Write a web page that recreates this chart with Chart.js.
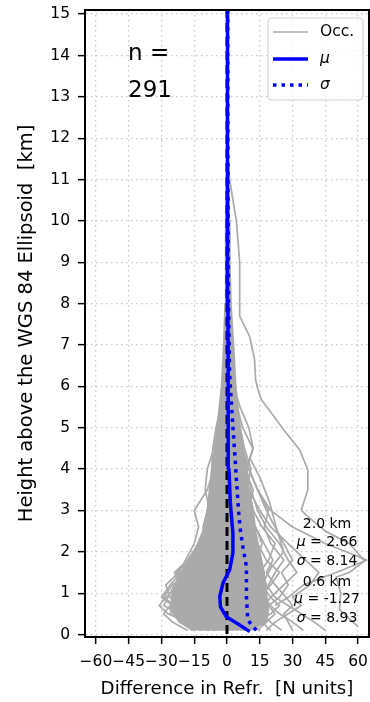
<!DOCTYPE html>
<html>
<head>
<meta charset="utf-8">
<title>Refractivity difference profiles</title>
<script src="https://cdn.jsdelivr.net/npm/chart.js@4.4.1/dist/chart.umd.min.js"></script>
<style>
  html, body { margin: 0; padding: 0; background: #fff; }
  #graphique { display: block; }
</style>
</head>
<body>
<canvas id="graphique" width="370" height="702"></canvas>
<script>
// axes
const xTicks = [-60, -45, -30, -15, 0, 15, 30, 45, 60]
const yTicks = [0, 1, 2, 3, 4, 5, 6, 7, 8, 9, 10, 11, 12, 13, 14, 15]

// dense core of the occultation profiles (left edge going up, right edge going down)
const coreHeights = [0.1, 0.3, 0.6, 1.0, 1.5, 2.0, 2.5, 3.0, 3.5, 4.0, 4.5, 5.0, 5.5, 6.0, 7.0, 8.0, 9.0, 10, 11, 12, 15]
const coreLeft = [-16, -21, -26, -25, -21, -15, -11, -9, -8, -7, -5.5, -4.5, -3.5, -2.5, -1.5, -0.9, -0.7, -0.5, -0.3, -0.2, 0]
const coreRight = [10, 18, 19, 18, 17, 15, 13, 12, 10, 9, 7.5, 6, 5, 4, 3, 1.8, 1.3, 1.0, 0.7, 0.4, 0.2]

// individual occultation profiles
const occHeights = [0.1, 0.3, 0.5, 0.7, 0.9, 1.2, 1.5, 1.8, 2.2, 2.6, 3.0, 3.5, 4.0, 4.5, 5.0, 5.5, 6.0, 7.0]
const occProfiles = [
  [-8, -18, -27, -31, -28, -22, -17, -12, -8, -5, -3, -2, -1.5, -1, -0.8, -0.5, -0.3, 0],
  [-5, -14, -22, -29, -27, -24, -20, -14, -10, -7, -5, -3, -2, -1.5, -1, -0.6, -0.3, 0],
  [null, -10, -20, -25, -30, -26, -21, -17, -12, -8, -5, -3.5, -2.5, -2, -1.2, -0.8, -0.4, 0.1],
  [-12, -20, -26, -24, -25, -22, -24, -18, -13, -9, -6, -4, -3, -2, -1.5, -1, -0.5, 0],
  [-3, -9, -16, -22, -26, -28, -22, -19, -15, -13, -15, -9, -6, -4, -3, -2, -1, -0.3],
  [-6, -12, -18, -24, -29, -25, -18, -14, -11, -10, -8, -10, -9, -6, -4, -2.5, -1.5, -0.5],
  [-10, -16, -20, -23, -21, -19, -16, -12, -9, -6, -4, -5, -7, -6.5, -5, -3, -2, -0.5],
  [-2, -6, -12, -18, -22, -20, -23, -17, -11, -7, -4, -3, -2, -1, -1, -0.5, -0.2, 0],
  [-15, -22, -24, -20, -16, -14, -12, -10, -7, -5, -3, -2, -1.5, -1, -0.5, -0.3, 0, 0],
  [-4, -8, -14, -16, -18, -16, -14, -13, -10, -8, -6, -4, -3, -2, -2, -1, -0.5, 0],
  [-18, -25, -29, -26, -22, -18, -15, -12, -9, -7, -5, -4, -3, -2, -1.5, -1, -0.5, 0],
  [2, -4, -10, -12, -9, -6, -4, -2, 0, 1, 2, 1, 1, 0.5, 0.5, 0.3, 0.2, 0],
  [5, 0, -5, -8, -6, -3, 0, 2, 3, 3, 2, 2, 1.5, 1, 1, 0.5, 0.3, 0.1],
  [8, 4, -2, -5, -3, 0, 3, 5, 4, 3, 2, 1.5, 1, 1, 0.5, 0.5, 0.2, 0],
  [-1, -5, -8, -10, -13, -9, -7, -5, -3, -2, -1, 0, 0, 0, 0, 0, 0, 0],
  [10, 6, 3, 0, 2, 5, 6, 8, 6, 4, 3, 2, 2, 1, 1, 0.5, 0.5, 0.2],
  [3, 2, 1, -2, -4, -2, 1, 3, 5, 6, 5, 3, 2, 1.5, 1, 0.5, 0.3, 0],
  [15, 12, 10, 8, 11, 14, 12, 10, 8, 7, 6, 5, 3, 2, 1.5, 1, 0.5, 0.2],
  [20, 16, 14, 17, 20, 16, 13, 15, 12, 9, 7, 5, 4, 3, 2, 1.5, 1, 0.3],
  [12, 10, 14, 18, 15, 20, 24, 18, 14, 12, 9, 7, 5, 3.5, 2.5, 2, 1.5, 0.5],
  [25, 20, 16, 12, 10, 12, 15, 19, 22, 16, 12, 10, 8, 5, 3, 2, 1, 0.5],
  [35, 30, 24, 20, 17, 15, 13, 11, 9, 8, 6, 4, 3, 2, 1.5, 1, 0.5, 0.2],
  [45, 40, 34, 28, 22, 18, 16, 14, 12, 10, 8, 6, 4, 3, 2, 1.5, 1, 0.3],
  [30, 28, 26, 30, 27, 22, 18, 21, 17, 13, 10, 8, 6, 4, 3, 2, 1, 0.3],
  [8, 14, 20, 24, 20, 26, 32, 28, 24, 18, 14, 11, 9, 12, 10, 6, 3, 1],
  [10, 12, 9, 13, 16, 19, 22, 26, 20, 17, 19, 14, 10, 7, 5, 3, 2, 0.5],
  [null, null, null, 22, 28, 35, 50, 64, 45, 30, 20, 14, 10, 7, 5, 3, 2, 0.5],
  [18, 22, 28, 34, 30, 38, 42, 36, 28, 20, 15, 10, 7, 5, 3, 2, 1, 0.3],
  [-7, -3, 4, 9, 14, 10, 7, 9, 11, 8, 6, 4, 3, 2, 1.5, 1, 0.5, 0.2],
  [0, 6, 11, 7, 4, 8, 11, 13, 9, 7, 4, 3, 2.5, 2, 1, 0.7, 0.5, 0.2],
  [2, 5, 8, 12, 10, 9, 12, 14, 16, 13, 10, 12, 8, 5, 3, 2, 1, 0.3],
  [-9, -13, -17, -15, -12, -10, -8, -7, -9, -11, -9, -7, -5, -4, -2.5, -1.5, -0.8, 0],
  [6, 9, 5, 2, 6, 10, 13, 11, 8, 10, 12, 9, 11, 8, 6, 4, 2, 0.5],
  [-12, -9, -6, -10, -14, -12, -9, -6, -4, -6, -8, -6, -4, -3, -2, -1.5, -1, 0],
  [14, 18, 22, 19, 24, 28, 25, 30, 26, 22, 18, 14, 10, 7, 4, 2.5, 1.5, 0.5]
]

// the two long outliers on the right
const outAX = [0.3, 1.2, 4.3, 5.8, 5.8, 10.4, 12.6, 13.1, 14.2, 15.7, 27, 33.2, 37, 37, 34, 36, 45, 56, 63, 56, 50, 52, 51.5, 60]
const outAY = [11.6, 11.0, 10.0, 9.0, 7.7, 7.2, 6.65, 6.16, 5.92, 5.68, 4.88, 4.47, 3.98, 3.5, 3.01, 2.9, 2.5, 2.2, 1.78, 1.5, 1.39, 1.0, 0.6, 0.19]
const outBX = [0.5, 2, 7.2, 11.8, 10.4, 15, 19.5, 23, 26, 20, 14, 10, 12]
const outBY = [7, 6, 5.0, 4.5, 4.27, 3.8, 3.2, 2.5, 2.0, 1.6, 1.0, 0.5, 0.2]

// mean and standard deviation
const muHeights = [0.07, 0.23, 0.43, 0.67, 0.92, 1.25, 1.56, 1.97, 2.45, 3.2, 4.0, 4.8, 6.4, 8, 10, 12, 15.2]
const muValues = [10.4, 5.8, -0.3, -3.0, -3.3, -1.8, 1.2, 2.7, 2.7, 1.5, 0.9, 0.6, 0.5, 0.4, 0.3, 0.2, 0.2]
const sigmaHeights = [0.1, 0.35, 0.92, 1.64, 2.2, 2.5, 2.8, 3.2, 4.4, 5.6, 6.3, 8, 10, 12, 15.2]
const sigmaValues = [13.4, 9.5, 8.9, 8.9, 7.0, 6.2, 5.6, 5.0, 3.5, 2.0, 1.2, 0.7, 0.5, 0.4, 0.3]

const gris = "rgb(170,170,170)"
const bleu = "rgb(0,0,255)"
const police = "DejaVu Sans"

function points(xs, ys){
  const pts = []
  for(let i = 0; i < xs.length; i++){
    if(xs[i] !== null) pts.push({x: xs[i], y: ys[i]})
  }
  return pts
}

const datasets = []
datasets.push({
  data: points(coreLeft.concat(coreRight.slice().reverse()), coreHeights.concat(coreHeights.slice().reverse())),
  fill: "shape", backgroundColor: gris, borderColor: gris, borderWidth: 1.7, order: 10
})
for(const p of occProfiles){
  datasets.push({data: points(p, occHeights), borderColor: gris, borderWidth: 1.7, fill: false, order: 9})
}
datasets.push({data: points(outAX, outAY), borderColor: gris, borderWidth: 1.7, fill: false, order: 9})
datasets.push({data: points(outBX, outBY), borderColor: gris, borderWidth: 1.7, fill: false, order: 9})
datasets.push({data: [{x: 0, y: -1}, {x: 0, y: 16}], borderColor: "#000", borderWidth: 3, borderDash: [9, 5], fill: false, order: 3})
datasets.push({data: points(muValues, muHeights), borderColor: bleu, borderWidth: 3.5, fill: false, order: 2})
datasets.push({data: points(sigmaValues, sigmaHeights), borderColor: bleu, borderWidth: 3.5, borderDash: [3.5, 5], fill: false, order: 1})

// text on top of the plot: n, statistics, legend, frame
const habillage = {
  id: "habillage",
  afterDatasetsDraw(chart){
    const ctx = chart.ctx
    const a = chart.chartArea
    ctx.save()
    ctx.fillStyle = "#000"
    ctx.textBaseline = "alphabetic"
    ctx.textAlign = "left"
    ctx.font = "23px " + police
    ctx.fillText("n =", 128, 60)
    ctx.fillText("291", 128, 97)

    // statistics block, centred
    const stats = [
      ["", "2.0 km", 528], ["\u03bc", " = 2.66", 546], ["\u03c3", " = 8.14", 565],
      ["", "0.6 km", 586], ["\u03bc", " = -1.27", 603], ["\u03c3", " = 8.93", 621.5]
    ]
    for(const [sym, txt, yb] of stats){
      ctx.font = "italic 14px " + police
      const w1 = ctx.measureText(sym).width
      ctx.font = "14px " + police
      const w2 = ctx.measureText(txt).width
      const x0 = 327 - (w1 + w2) / 2
      ctx.font = "italic 14px " + police
      ctx.fillText(sym, x0, yb)
      ctx.font = "14px " + police
      ctx.fillText(txt, x0 + w1, yb)
    }

    // legend
    const lx = 268, ly = 18, lw = 95, lh = 82, r = 4
    ctx.beginPath()
    ctx.moveTo(lx + r, ly)
    ctx.arcTo(lx + lw, ly, lx + lw, ly + lh, r)
    ctx.arcTo(lx + lw, ly + lh, lx, ly + lh, r)
    ctx.arcTo(lx, ly + lh, lx, ly, r)
    ctx.arcTo(lx, ly, lx + lw, ly, r)
    ctx.closePath()
    ctx.fillStyle = "rgba(255,255,255,0.8)"
    ctx.fill()
    ctx.strokeStyle = "#d4d4d4"
    ctx.lineWidth = 1.2
    ctx.stroke()

    const rows = [
      {y: 32, color: gris, width: 1.7, dash: [], label: "Occ.", style: ""},
      {y: 59, color: bleu, width: 3.5, dash: [], label: "\u03bc", style: "italic "},
      {y: 85, color: bleu, width: 3.5, dash: [3.5, 5], label: "\u03c3", style: "italic "}
    ]
    for(const row of rows){
      ctx.beginPath()
      ctx.setLineDash(row.dash)
      ctx.strokeStyle = row.color
      ctx.lineWidth = row.width
      ctx.moveTo(273, row.y)
      ctx.lineTo(308, row.y)
      ctx.stroke()
      ctx.setLineDash([])
      ctx.fillStyle = "#000"
      ctx.textBaseline = "middle"
      ctx.font = row.style + "15.5px " + police
      ctx.fillText(row.label, 320, row.y)
    }

    // frame
    ctx.strokeStyle = "#000"
    ctx.lineWidth = 2
    ctx.strokeRect(a.left, a.top, a.right - a.left, a.bottom - a.top)
    ctx.restore()
  }
}

const tickFont = {family: police, size: 15.5}

new Chart(document.querySelector("#graphique"), {
  type: "scatter",
  data: {datasets: datasets},
  options: {
    responsive: false,
    animation: false,
    devicePixelRatio: 1,
    showLine: true,
    layout: {padding: {top: 10, right: 1, bottom: 0, left: 0}},
    plugins: {legend: {display: false}, tooltip: {enabled: false}},
    elements: {
      point: {radius: 0, hoverRadius: 0},
      line: {tension: 0, borderCapStyle: "butt", borderJoinStyle: "round"}
    },
    scales: {
      x: {
        type: "linear", min: -65, max: 65,
        afterBuildTicks: s => { s.ticks = xTicks.map(v => ({value: v})) },
        afterFit: s => { s.height = 65; s.paddingLeft = 0; s.paddingRight = 0 },
        ticks: {
          autoSkip: false, maxRotation: 0, padding: 9, color: "#000", font: tickFont,
          callback: v => v < 0 ? "\u2212" + (-v) : "" + v
        },
        grid: {color: "#c8c8c8", lineWidth: 1.3, tickLength: 7, tickColor: "#000", tickWidth: 1.5},
        border: {display: true, color: "#000", width: 2, dash: [1.5, 3.5]},
        title: {
          display: true, text: "Difference in Refr.  [N units]", color: "#000",
          font: {family: police, size: 18.2}, padding: {top: 0, bottom: 2}
        }
      },
      y: {
        type: "linear", min: -0.06, max: 15.1,
        afterBuildTicks: s => { s.ticks = yTicks.map(v => ({value: v})) },
        afterFit: s => { s.width = 85; s.paddingTop = 0; s.paddingBottom = 0 },
        ticks: {autoSkip: false, padding: 8, color: "#000", font: tickFont},
        grid: {color: "#c8c8c8", lineWidth: 1.3, tickLength: 7, tickColor: "#000", tickWidth: 1.5},
        border: {display: true, color: "#000", width: 2, dash: [1.5, 3.5]},
        title: {
          display: true, text: "Height above the WGS 84 Ellipsoid  [km]", color: "#000",
          font: {family: police, size: 19.5}, padding: {top: 15, bottom: 0}
        }
      }
    }
  },
  plugins: [habillage]
})
</script>
</body>
</html>
